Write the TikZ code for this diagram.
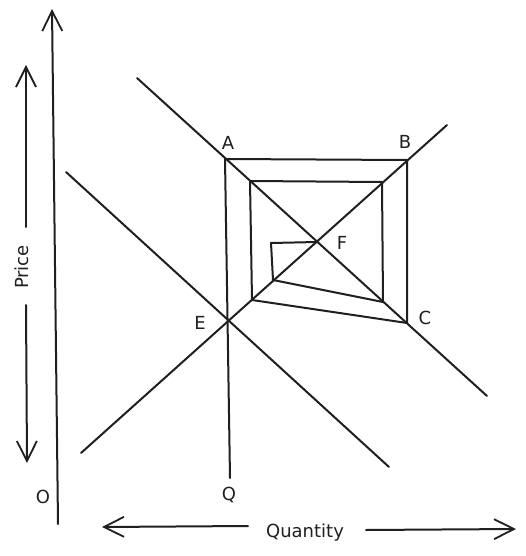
\documentclass[tikz,border=0pt]{standalone}
\usepackage{fontspec}
\setmainfont{DejaVu Sans}
\usetikzlibrary{arrows.meta}
\begin{document}
\begin{tikzpicture}[x=1pt,y=-1pt,
  ln/.style={line width=2pt, line cap=round, line join=round, black!88},
  axarrow/.style={ln, -{Straight Barb[length=20pt,width=20pt,line width=1.8pt]}},
  lbl/.style={font=\fontsize{18}{20}\selectfont, text=black!88, inner sep=0pt}]
\useasboundingbox (0,0) rectangle (526,556);
% key points
\coordinate (A) at (225,159);
\coordinate (B) at (407,160);
\coordinate (C) at (407,323);
\coordinate (E) at (228,320);
\coordinate (F) at (317,242);
% demand line 1
\coordinate (D1s) at (137,78);
\coordinate (D1e) at (487,396);
% supply line
\coordinate (Ss) at (81,453);
\coordinate (Se) at (447,125);
% demand line 2
\coordinate (D2s) at (66,172);
\coordinate (D2e) at (389,467);
% vertical Q line
\coordinate (Qb) at (230,478);
% cobweb points
\coordinate (P1) at (252,300);
\coordinate (P2) at (250,181);
\coordinate (P3) at (382,182);
\coordinate (P4) at (383,302);
\coordinate (P5) at (273,280);
\coordinate (P6) at (271,243);
% axes
\coordinate (Vb) at (58,524);
\coordinate (Vt) at (52,9);
\coordinate (Pu1) at (26,227);
\coordinate (Pu2) at (26,65);
\coordinate (Pd1) at (26,305);
\coordinate (Pd2) at (27,463);
\coordinate (Ql1) at (248,526);
\coordinate (Ql2) at (102,527);
\coordinate (Qr1) at (366,530);
\coordinate (Qr2) at (516,529);

\draw[axarrow] (Vb) -- (Vt);
\draw[axarrow] (Pu1) -- (Pu2);
\draw[axarrow] (Pd1) -- (Pd2);
\draw[axarrow] (Ql1) -- (Ql2);
\draw[axarrow] (Qr1) -- (Qr2);

\draw[ln] (D1s) -- (D1e);
\draw[ln] (Ss) -- (Se);
\draw[ln] (D2s) -- (D2e);
\draw[ln] (A) -- (Qb);
\draw[ln] (A) -- (B) -- (C) -- (P1) -- (P2) -- (P3) -- (P4) -- (P5) -- (P6) -- (F);

\node[lbl] (lA) at (228,143) {A};
\node[lbl] (lB) at (405,142) {B};
\node[lbl] (lC) at (425,318) {C};
\node[lbl] (lE) at (200,323) {E};
\node[lbl] (lF) at (342,243) {F};
\node[lbl] (lQ) at (229,495) {Q};
\node[lbl] (lO) at (43,497) {O};
\node[lbl, rotate=90] (lP) at (22,267) {Price};
\node[lbl] (lQt) at (305,533) {Quantity};
\end{tikzpicture}
\end{document}
